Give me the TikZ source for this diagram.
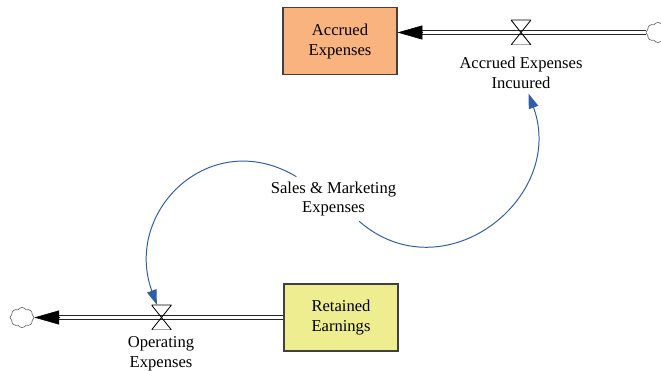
\documentclass[tikz,border=0pt]{standalone}
\usepackage{fontspec}
\setmainfont{Liberation Serif}
\usetikzlibrary{arrows.meta,shapes.symbols}

\definecolor{stockorange}{RGB}{249,179,126}
\definecolor{stockyellow}{RGB}{238,238,145}
\definecolor{linkblue}{RGB}{47,93,170}
\definecolor{edgegray}{RGB}{64,64,64}

\tikzset{
	stock/.style={draw=edgegray, line width=0.8pt, minimum width=2.85cm, minimum height=1.675cm, align=center, font=\fontsize{11.8}{14}\selectfont},
	pipe/.style={draw=black!85, double=white, double distance=1.7pt, line width=0.6pt, shorten >=15pt},
	flowtip/.style={line width=0.4pt, -{Triangle[length=17.7pt,width=10pt]}},
	valve/.style={minimum width=0.5cm, minimum height=0.625cm, inner sep=0pt,
		path picture={\draw[black, line width=0.6pt] (path picture bounding box.north west) -- (path picture bounding box.south east) -- (path picture bounding box.south west) -- (path picture bounding box.north east) -- cycle;}},
	source/.style={cloud, draw=black!70, cloud puffs=8, cloud puff arc=120, aspect=1.15, minimum width=0.6cm, minimum height=0.5cm, inner sep=0pt},
	varname/.style={align=center, font=\fontsize{11.8}{14}\selectfont},
	link/.style={draw=linkblue, line width=0.7pt, -{Triangle[length=10.5pt,width=7pt]}, looseness=1.35}
}

\begin{document}
\begin{tikzpicture}
		\useasboundingbox (0,0) rectangle (16.525,9.275);

		% stocks
		\node [stock, fill=stockorange] (accrued) at (8.5, 8.245) {Accrued\\Expenses};
		\node [stock, fill=stockyellow] (retained) at (8.525, 1.3375) {Retained\\Earnings};

		% sources and sinks
		\node [source] (cloudA) at (16.45, 8.4625) {};
		\node [source] (cloudB) at (0.55, 1.3375) {};
		\coordinate (accIn) at (accrued.east |- cloudA);

		% pipes
		\draw [pipe] (cloudA) -- (accIn);
		\draw [flowtip] ([xshift=18pt]accIn) -- (accIn);
		\draw [pipe] (retained) -- (cloudB);
		\draw [flowtip] ([xshift=18pt]cloudB.east) -- (cloudB.east);

		% valves and flow names
		\node [valve] (accValve) at (13.025, 8.4625) {};
		\node [valve] (opValve) at (4.0375, 1.3375) {};
		\node [varname] (accFlow) at (13.025, 7.45) {Accrued Expenses\\Incuured};
		\node [varname] (opFlow) at (4.025, 0.43) {Operating\\Expenses};

		% auxiliary
		\node [varname] (sales) at (8.3375, 4.3) {Sales \& Marketing\\Expenses};

		\draw [link] (sales) to[out=149, in=110] (opValve);
		\draw [link] (sales) to[out=319, in=290] (accFlow);
\end{tikzpicture}
\end{document}
